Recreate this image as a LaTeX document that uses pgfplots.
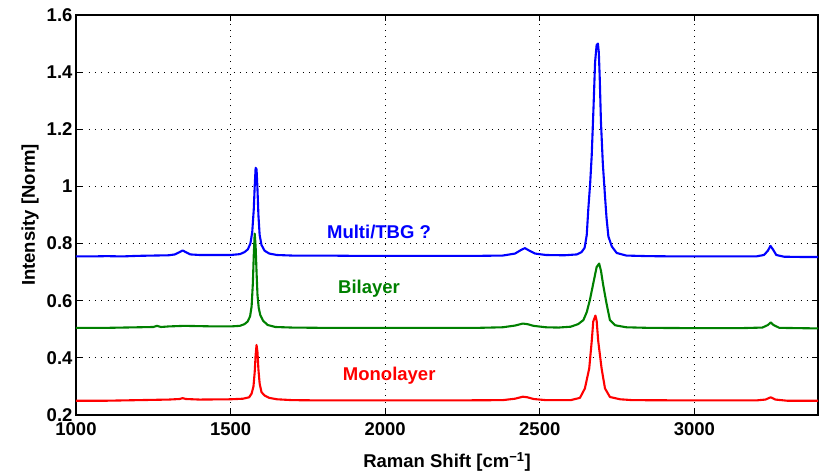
\documentclass[border=0pt]{standalone}
\usepackage{fontspec}
\setmainfont{Liberation Sans}
\usepackage{pgfplots}
\pgfplotsset{compat=1.18}
\definecolor{mblue}{rgb}{0,0,1}
\definecolor{mgreen}{rgb}{0,0.5,0}
\definecolor{mred}{rgb}{1,0,0}
\begin{document}
\begin{tikzpicture}
\begin{axis}[
  scale only axis,
  width=742pt, height=400pt,
  xmin=1000, xmax=3400, ymin=0.2, ymax=1.6,
  xtick={1000,1500,2000,2500,3000},
  ytick={0.2,0.4,0.6,0.8,1,1.2,1.4,1.6},
  yticklabels={0.2,0.4,0.6,0.8,1,1.2,1.4,1.6},
  xticklabels={1000,1500,2000,2500,3000},
  tick align=inside,
  major tick length=6pt,
  axis line style={line width=1.3pt},
  every tick/.style={black,line width=1pt},
  grid=major,
  major grid style={black,line width=0.8pt,dash pattern=on 0.8pt off 5.5pt},
  ticklabel style={font=\bfseries\fontsize{18.5}{18.5}\selectfont},
  xticklabel style={yshift=-4pt},
  /pgf/number format/assume math mode=true,
  xlabel={Raman Shift [cm\textsuperscript{−1}]},
  ylabel={Intensity [Norm]},
  every axis x label/.style={at={(axis description cs:0.5,-0.1175)},anchor=center,font=\bfseries\fontsize{18.5}{18.5}\selectfont},
  every axis y label/.style={at={(axis description cs:-0.062,0.5)},rotate=90,anchor=center,font=\bfseries\fontsize{18.5}{18.5}\selectfont},
  every axis plot/.append style={line join=round, line cap=round},
  clip=true,
]
\addplot[mblue, line width=2.1pt] coordinates {
(1000,0.755) (1050,0.755) (1100,0.756) (1150,0.755) (1200,0.757) (1250,0.758) (1300,0.759)
(1320,0.762) (1335,0.770) (1345,0.776) (1355,0.770) (1370,0.762) (1400,0.760) (1450,0.760)
(1500,0.760) (1530,0.763) (1545,0.770) (1556,0.780) (1564,0.800) (1570,0.840) (1575,0.920)
(1578,1.000) (1581,1.065) (1584,1.060) (1587,0.990) (1590,0.900) (1594,0.830) (1600,0.795)
(1610,0.775) (1625,0.765) (1650,0.760) (1700,0.758) (1800,0.758) (1900,0.757) (2000,0.757)
(2100,0.757) (2200,0.757) (2300,0.757) (2380,0.758) (2420,0.765) (2440,0.778) (2452,0.784)
(2465,0.776) (2485,0.765) (2520,0.760) (2580,0.759) (2620,0.762) (2635,0.770) (2645,0.785)
(2652,0.830) (2657,0.920) (2663,1.010) (2668,1.107) (2674,1.280) (2679,1.436) (2684,1.495)
(2688,1.500) (2691,1.470) (2694,1.380) (2698,1.224) (2704,1.080) (2711,0.966) (2716,0.890)
(2722,0.825) (2733,0.790) (2749,0.767) (2780,0.758) (2850,0.756) (2950,0.755) (3050,0.755)
(3150,0.755) (3200,0.755) (3225,0.760) (3238,0.775) (3246,0.792) (3254,0.780) (3265,0.760)
(3290,0.754) (3350,0.753) (3400,0.753)
};
\addplot[mgreen, line width=2.1pt] coordinates {
(1000,0.505) (1100,0.505) (1200,0.507) (1250,0.508) (1262,0.512) (1275,0.508) (1300,0.510)
(1350,0.512) (1400,0.511) (1450,0.510) (1500,0.510) (1530,0.512) (1545,0.518) (1555,0.527)
(1563,0.545) (1568,0.580) (1572,0.660) (1575,0.760) (1578,0.835) (1581,0.790) (1584,0.700)
(1587,0.620) (1591,0.575) (1596,0.550) (1605,0.530) (1620,0.515) (1645,0.508) (1700,0.506)
(1800,0.505) (1900,0.505) (2000,0.505) (2100,0.505) (2200,0.505) (2300,0.505) (2380,0.507)
(2420,0.513) (2445,0.520) (2460,0.518) (2480,0.512) (2520,0.507) (2560,0.506) (2600,0.509)
(2624,0.518) (2641,0.532) (2652,0.560) (2662,0.602) (2673,0.660) (2684,0.718) (2692,0.730)
(2698,0.705) (2705,0.656) (2716,0.590) (2727,0.532) (2744,0.514) (2780,0.507) (2850,0.505)
(3000,0.504) (3150,0.504) (3220,0.506) (3238,0.515) (3247,0.524) (3256,0.515) (3275,0.505)
(3400,0.503)
};
\addplot[mred, line width=2.1pt] coordinates {
(1000,0.250) (1100,0.250) (1200,0.252) (1300,0.254) (1335,0.256) (1345,0.259) (1355,0.256)
(1400,0.254) (1500,0.255) (1540,0.257) (1560,0.262) (1568,0.275) (1574,0.300) (1578,0.350)
(1581,0.410) (1584,0.445) (1587,0.420) (1590,0.360) (1594,0.310) (1600,0.280) (1610,0.268)
(1625,0.260) (1650,0.255) (1700,0.252) (1800,0.251) (2000,0.251) (2200,0.251) (2380,0.252)
(2420,0.257) (2445,0.264) (2460,0.262) (2480,0.256) (2520,0.252) (2600,0.252) (2630,0.260)
(2646,0.293) (2660,0.363) (2668,0.457) (2673,0.527) (2680,0.548) (2684,0.530) (2689,0.460)
(2700,0.363) (2711,0.293) (2727,0.263) (2760,0.255) (2800,0.252) (3000,0.251) (3200,0.251)
(3230,0.254) (3247,0.262) (3262,0.254) (3300,0.250) (3400,0.250)
};
\node[text=mblue, font=\bfseries\fontsize{18.5}{18.5}\selectfont] at (axis cs:1980,0.84) {Multi/TBG ?};
\node[text=mgreen, font=\bfseries\fontsize{18.5}{18.5}\selectfont] at (axis cs:1948,0.641) {Bilayer};
\node[text=mred, font=\bfseries\fontsize{18.5}{18.5}\selectfont] at (axis cs:2013,0.337) {Monolayer};
\end{axis}
\pgfresetboundingbox
\path ([shift={(-76pt,-60pt)}]current axis.south west) rectangle ([shift={(10pt,15pt)}]current axis.north east);
\end{tikzpicture}
\end{document}
